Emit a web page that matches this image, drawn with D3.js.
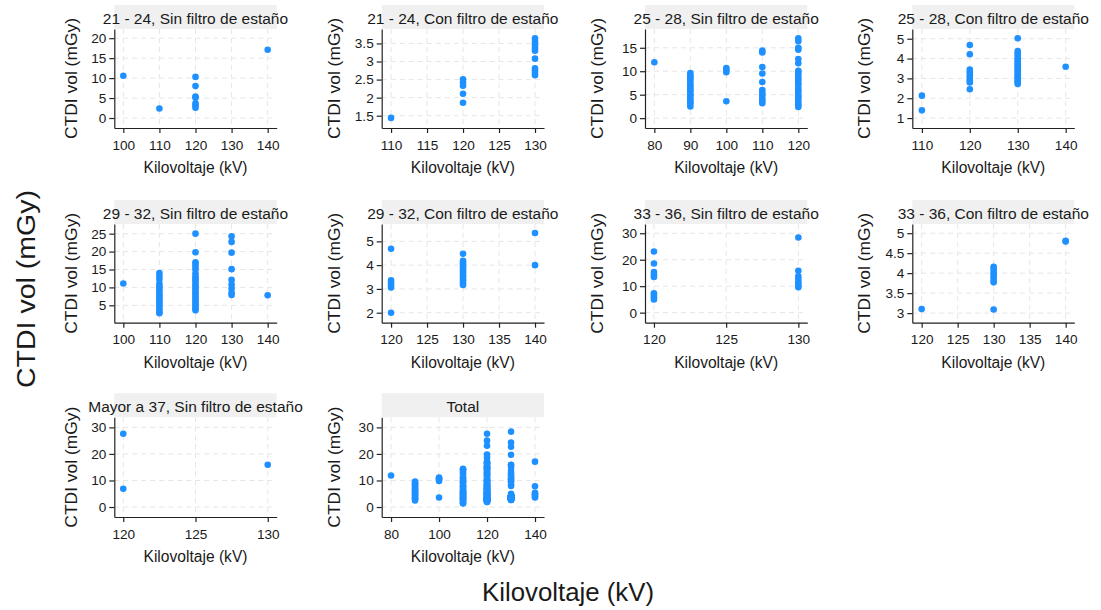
<!DOCTYPE html>
<html>
<head>
<meta charset="utf-8">
<script src="https://cdn.jsdelivr.net/npm/d3@7"></script>
<style>
  body { margin: 0; background: #fff; }
  text { font-family: "Liberation Sans", Arial, sans-serif; fill: #1a1a1a; }
</style>
</head>
<body>
<svg id="chart" width="1101" height="610"></svg>
<script>
// ---------------- data (kV -> CTDI vol values) ----------------
const panelTitles = [
  "21 - 24, Sin filtro de estaño", "21 - 24, Con filtro de estaño",
  "25 - 28, Sin filtro de estaño", "25 - 28, Con filtro de estaño",
  "29 - 32, Sin filtro de estaño", "29 - 32, Con filtro de estaño",
  "33 - 36, Sin filtro de estaño", "33 - 36, Con filtro de estaño",
  "Mayor a 37, Sin filtro de estaño", "Total"
];

const p2124Sin = {100: [10.6], 110: [2.4], 120: [10.3, 8.0, 5.4, 5.1, 3.7, 3.2, 2.6], 140: [17.1]};
const p2124Con = {110: [1.44], 120: [2.51, 2.41, 2.33, 2.11, 1.86],
  130: [3.64, 3.55, 3.48, 3.41, 3.35, 3.30, 3.08, 2.81, 2.75, 2.68, 2.62]};
const p2528Sin = {80: [11.9],
  90: [9.6, 9.1, 8.7, 8.4, 7.9, 7.3, 6.9, 6.4, 6.0, 5.7, 5.1, 4.8, 4.3, 3.8, 3.4, 3.1, 2.5],
  100: [10.7, 10.3, 9.8, 3.6],
  110: [14.4, 14.0, 10.9, 9.5, 7.7, 6.0, 5.4, 4.9, 4.2, 3.7, 3.2],
  120: [17.0, 16.4, 15.0, 14.6, 12.6, 11.7, 10.1, 9.7, 9.2, 8.6, 8.1, 7.5, 7.1, 6.4, 5.9, 5.5, 4.8, 4.4, 3.9, 3.3, 2.8, 2.4]};
const p2528Con = {110: [2.13, 1.39],
  120: [4.68, 4.22, 3.44, 3.30, 3.14, 3.02, 2.89, 2.79, 2.45],
  130: [5.02, 4.38, 4.27, 4.16, 4.02, 3.93, 3.85, 3.75, 3.69, 3.60, 3.51, 3.45, 3.36, 3.27, 3.21, 3.11, 3.05, 2.95, 2.87, 2.81, 2.72],
  140: [3.59]};
const p2932Sin = {100: [11.1],
  110: [14.0, 13.1, 12.2, 11.0, 10.3, 9.6, 8.9, 8.1, 7.6, 7.0, 6.3, 5.8, 5.1, 4.6, 3.9, 3.2, 2.8],
  120: [25.0, 19.8, 17.0, 16.5, 15.8, 15.0, 13.9, 13.0, 12.5, 12.0, 11.3, 10.6, 10.0, 9.4, 8.7, 8.2, 7.6, 7.0, 6.4, 5.8, 5.3, 4.7, 4.1, 3.6],
  130: [24.3, 22.7, 19.7, 15.1, 12.1, 10.8, 9.7, 8.5, 7.9],
  140: [7.8]};
const p2932Con = {120: [4.69, 3.36, 3.26, 3.16, 3.06, 2.0],
  130: [4.48, 4.18, 4.10, 4.02, 3.93, 3.85, 3.76, 3.68, 3.59, 3.51, 3.42, 3.34, 3.25, 3.17],
  140: [5.35, 4.0]};
const p3336Sin = {120: [23.1, 18.6, 15.3, 14.2, 13.5, 7.3, 6.7, 5.8, 5.0],
  130: [28.4, 15.8, 13.7, 12.7, 11.5, 10.5, 9.6]};
const p3336Con = {120: [3.1], 130: [4.16, 4.10, 4.03, 3.97, 3.90, 3.83, 3.77, 3.09], 140: [4.81, 4.79]};
const pMayor37Sin = {120: [27.6, 6.9], 130: [15.9]};

const groups = [p2124Sin, p2124Con, p2528Sin, p2528Con, p2932Sin, p2932Con, p3336Sin, p3336Con, pMayor37Sin];

// Total = every group together
const pTotal = {};
groups.forEach(g => Object.entries(g).forEach(([kv, vals]) => {
  (pTotal[kv] = pTotal[kv] || []).push(...vals);
}));
const panelData = [...groups, pTotal];

const xDomains = [[97.5, 142.5], [108.7, 131.25], [77.4, 122.5], [108.0, 141.8], [97.5, 142.5],
  [118.7, 141.25], [119.38, 130.62], [118.7, 141.2], [119.38, 130.62], [76.1, 143.75]];
const yDomains = [[-2.5, 22.3], [1.16, 3.9], [-2.1, 19.0], [0.5, 5.49], [0.15, 27.7],
  [1.58, 5.73], [-3.8, 33.5], [2.76, 5.23], [-3.76, 33.8], [-3.76, 33.8]];
const xTicks = [[100, 110, 120, 130, 140], [110, 115, 120, 125, 130], [80, 90, 100, 110, 120],
  [110, 120, 130, 140], [100, 110, 120, 130, 140], [120, 125, 130, 135, 140], [120, 125, 130],
  [120, 125, 130, 135, 140], [120, 125, 130], [80, 100, 120, 140]];
const yTicks = [[0, 5, 10, 15, 20], [1.5, 2, 2.5, 3, 3.5], [0, 5, 10, 15], [1, 2, 3, 4, 5],
  [5, 10, 15, 20, 25], [2, 3, 4, 5], [0, 10, 20, 30], [3, 3.5, 4, 4.5, 5], [0, 10, 20, 30], [0, 10, 20, 30]];

// ---------------- layout ----------------
const colX = [[114.3, 276.7], [381.7, 544], [645, 807.3], [912.3, 1074.3]];
const rowY = [[29, 128], [224, 322.7], [417.3, 517]];
const yTitleX = [71.7, 334.3, 598, 865];
const stripH = 24;
const pointColor = "#1e90ff";

const svg = d3.select("#chart");

panelData.forEach((data, i) => {
  const col = i % 4, row = Math.floor(i / 4);
  const [x0, x1] = colX[col], [y0, y1] = rowY[row];

  const x = d3.scaleLinear().domain(xDomains[i]).range([x0, x1]);
  const y = d3.scaleLinear().domain(yDomains[i]).range([y1, y0]);

  const g = svg.append("g").attr("class", "panel");

  // grid
  g.append("g").selectAll("line").data(xTicks[i]).join("line")
    .attr("x1", d => x(d)).attr("x2", d => x(d))
    .attr("y1", y0).attr("y2", y1)
    .attr("stroke", "#e6e6e6").attr("stroke-dasharray", "5,4");
  g.append("g").selectAll("line").data(yTicks[i]).join("line")
    .attr("x1", x0).attr("x2", x1)
    .attr("y1", d => y(d)).attr("y2", d => y(d))
    .attr("stroke", "#e6e6e6").attr("stroke-dasharray", "5,4");

  // axes
  const xAxis = g.append("g")
    .attr("transform", `translate(0,${y1})`)
    .call(d3.axisBottom(x).tickValues(xTicks[i]).tickFormat(d => d).tickSize(5).tickSizeOuter(0).tickPadding(7));
  const yAxis = g.append("g")
    .attr("transform", `translate(${x0},0)`)
    .call(d3.axisLeft(y).tickValues(yTicks[i]).tickFormat(d => d).tickSize(5).tickSizeOuter(0).tickPadding(3));
  [xAxis, yAxis].forEach(a => {
    a.selectAll("path, line").attr("stroke", "#222").attr("stroke-width", 1.2);
    a.selectAll("text").attr("font-size", 13.6).attr("fill", "#1a1a1a")
      .style("font-family", '"Liberation Sans", Arial, sans-serif');
  });

  // points
  const pts = Object.entries(data).flatMap(([kv, vals]) => vals.map(v => ({kv: +kv, v})));
  g.append("g").selectAll("circle").data(pts).join("circle")
    .attr("cx", d => x(d.kv)).attr("cy", d => y(d.v))
    .attr("r", 3.3).attr("fill", pointColor);

  // strip
  g.append("rect")
    .attr("x", x0).attr("y", y0 - stripH)
    .attr("width", x1 - x0).attr("height", stripH)
    .attr("fill", "#f0f0f0");
  g.append("text")
    .attr("x", (x0 + x1) / 2).attr("y", y0 - stripH / 2 + 1)
    .attr("text-anchor", "middle").attr("dominant-baseline", "central")
    .attr("font-size", 15.5).text(panelTitles[i]);

  // axis titles
  g.append("text")
    .attr("x", (x0 + x1) / 2).attr("y", y1 + 45)
    .attr("text-anchor", "middle").attr("font-size", 15.6)
    .text("Kilovoltaje (kV)");
  g.append("text")
    .attr("transform", `translate(${yTitleX[col]},${(y0 + y1) / 2}) rotate(-90)`)
    .attr("text-anchor", "middle").attr("dy", "0.35em")
    .attr("font-size", 15.6)
    .attr("textLength", 121).attr("lengthAdjust", "spacingAndGlyphs")
    .text("CTDI vol (mGy)");
});

// global titles
svg.append("text")
  .attr("x", 568).attr("y", 601)
  .attr("text-anchor", "middle").attr("font-size", 25.8)
  .text("Kilovoltaje (kV)");
svg.append("text")
  .attr("transform", "translate(26,289) rotate(-90)")
  .attr("text-anchor", "middle").attr("dy", "0.35em")
  .attr("font-size", 25.8)
  .attr("textLength", 198).attr("lengthAdjust", "spacingAndGlyphs")
  .text("CTDI vol (mGy)");
</script>
</body>
</html>
